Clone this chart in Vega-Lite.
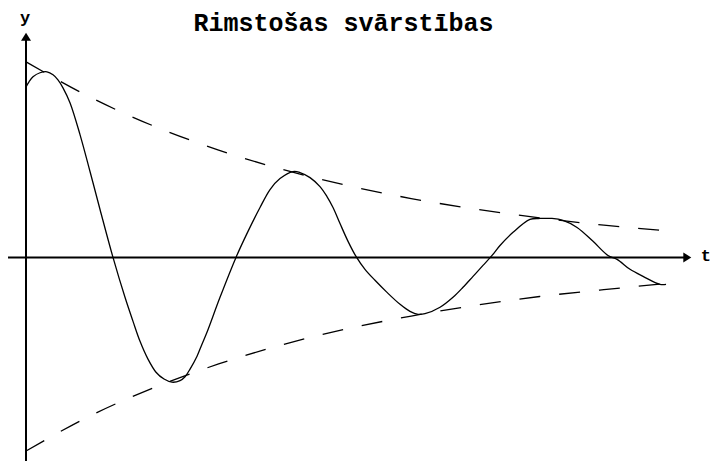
{
  "$schema": "https://vega.github.io/schema/vega-lite/v6.json",
  "width": 712,
  "height": 462,
  "autosize": {"type": "fit", "contains": "padding"},
  "padding": 0,
  "background": "white",
  "config": {"view": {"stroke": null}},
  "datasets": {
    "curve": [
      {"t": 0.0, "y": 0.872}, {"t": 0.047, "y": 0.898}, {"t": 0.109, "y": 0.923}, {"t": 0.218, "y": 0.944},
      {"t": 0.327, "y": 0.949}, {"t": 0.421, "y": 0.934}, {"t": 0.498, "y": 0.908}, {"t": 0.576, "y": 0.867},
      {"t": 0.685, "y": 0.791}, {"t": 0.841, "y": 0.628}, {"t": 0.997, "y": 0.439}, {"t": 1.153, "y": 0.245},
      {"t": 1.355, "y": 0.0}, {"t": 1.542, "y": -0.204}, {"t": 1.667, "y": -0.327}, {"t": 1.776, "y": -0.429},
      {"t": 1.900, "y": -0.520}, {"t": 2.025, "y": -0.587}, {"t": 2.150, "y": -0.622}, {"t": 2.274, "y": -0.638},
      {"t": 2.399, "y": -0.630}, {"t": 2.477, "y": -0.610}, {"t": 2.555, "y": -0.571}, {"t": 2.664, "y": -0.505},
      {"t": 2.741, "y": -0.444}, {"t": 2.819, "y": -0.383}, {"t": 3.022, "y": -0.204}, {"t": 3.271, "y": 0.0},
      {"t": 3.458, "y": 0.133}, {"t": 3.645, "y": 0.255}, {"t": 3.801, "y": 0.347}, {"t": 3.956, "y": 0.403},
      {"t": 4.159, "y": 0.439}, {"t": 4.268, "y": 0.434}, {"t": 4.424, "y": 0.408}, {"t": 4.579, "y": 0.362},
      {"t": 4.688, "y": 0.311}, {"t": 4.782, "y": 0.255}, {"t": 4.891, "y": 0.173}, {"t": 5.016, "y": 0.082},
      {"t": 5.140, "y": 0.005}, {"t": 5.280, "y": -0.061}, {"t": 5.436, "y": -0.117}, {"t": 5.623, "y": -0.179},
      {"t": 5.826, "y": -0.240}, {"t": 5.981, "y": -0.276}, {"t": 6.106, "y": -0.291}, {"t": 6.215, "y": -0.288},
      {"t": 6.449, "y": -0.255}, {"t": 6.651, "y": -0.204}, {"t": 6.807, "y": -0.153}, {"t": 6.963, "y": -0.097},
      {"t": 7.118, "y": -0.041}, {"t": 7.259, "y": 0.010}, {"t": 7.383, "y": 0.061}, {"t": 7.586, "y": 0.128},
      {"t": 7.850, "y": 0.194}, {"t": 8.006, "y": 0.199}, {"t": 8.193, "y": 0.199}, {"t": 8.364, "y": 0.189},
      {"t": 8.583, "y": 0.153}, {"t": 8.832, "y": 0.082}, {"t": 9.065, "y": 0.010}, {"t": 9.206, "y": -0.010},
      {"t": 9.408, "y": -0.061}, {"t": 9.611, "y": -0.097}, {"t": 9.875, "y": -0.138}, {"t": 9.969, "y": -0.138}
    ],
    "upper": [
      {"t": 0, "y": 1.0}, {"t": 1, "y": 0.819}, {"t": 2, "y": 0.67}, {"t": 3, "y": 0.549},
      {"t": 4, "y": 0.449}, {"t": 5, "y": 0.368}, {"t": 6, "y": 0.301}, {"t": 7, "y": 0.247},
      {"t": 8, "y": 0.202}, {"t": 9, "y": 0.165}, {"t": 10, "y": 0.135}
    ],
    "lower": [
      {"t": 0, "y": -0.99}, {"t": 1, "y": -0.81}, {"t": 2, "y": -0.665}, {"t": 3, "y": -0.545},
      {"t": 4, "y": -0.446}, {"t": 5, "y": -0.365}, {"t": 6, "y": -0.3}, {"t": 7, "y": -0.245},
      {"t": 8, "y": -0.2}, {"t": 9, "y": -0.165}, {"t": 10, "y": -0.133}
    ],
    "labels": [
      {"label": "Rimstošas svārstības", "t": 4.946, "y": 1.158, "size": "title"},
      {"label": "y", "t": -0.016, "y": 1.199, "size": "axis"},
      {"label": "t", "t": 10.59, "y": -0.02, "size": "axis"}
    ]
  },
  "layer": [
    {
      "data": {"name": "upper"},
      "mark": {"type": "line", "interpolate": "monotone", "color": "black", "strokeWidth": 1.3, "strokeDash": [21, 19]},
      "encoding": {
        "x": {"field": "t", "type": "quantitative", "axis": null, "scale": {"domain": [-0.405, 10.685], "nice": false, "zero": false}},
        "y": {"field": "y", "type": "quantitative", "axis": null, "scale": {"domain": [-1.041, 1.316], "nice": false, "zero": false}}
      }
    },
    {
      "data": {"name": "lower"},
      "mark": {"type": "line", "interpolate": "monotone", "color": "black", "strokeWidth": 1.3, "strokeDash": [21, 19]},
      "encoding": {
        "x": {"field": "t", "type": "quantitative", "axis": null, "scale": {"domain": [-0.405, 10.685], "nice": false, "zero": false}},
        "y": {"field": "y", "type": "quantitative", "axis": null, "scale": {"domain": [-1.041, 1.316], "nice": false, "zero": false}}
      }
    },
    {
      "data": {"name": "curve"},
      "mark": {"type": "line", "interpolate": "catmull-rom", "color": "black", "strokeWidth": 1.3},
      "encoding": {
        "x": {"field": "t", "type": "quantitative", "axis": null, "scale": {"domain": [-0.405, 10.685], "nice": false, "zero": false}},
        "y": {"field": "y", "type": "quantitative", "axis": null, "scale": {"domain": [-1.041, 1.316], "nice": false, "zero": false}}
      }
    },
    {
      "data": {"values": [{}]},
      "mark": {"type": "rule", "color": "black", "strokeWidth": 2},
      "encoding": {
        "x": {"datum": -0.28, "type": "quantitative", "axis": null, "scale": {"domain": [-0.405, 10.685], "nice": false, "zero": false}},
        "x2": {"datum": 10.25},
        "y": {"datum": 0, "type": "quantitative", "axis": null, "scale": {"domain": [-1.041, 1.316], "nice": false, "zero": false}}
      }
    },
    {
      "data": {"values": [{}]},
      "mark": {"type": "rule", "color": "black", "strokeWidth": 2},
      "encoding": {
        "x": {"datum": 0, "type": "quantitative", "axis": null, "scale": {"domain": [-0.405, 10.685], "nice": false, "zero": false}},
        "y": {"datum": -1.041, "type": "quantitative", "axis": null, "scale": {"domain": [-1.041, 1.316], "nice": false, "zero": false}},
        "y2": {"datum": 1.112}
      }
    },
    {
      "data": {"values": [{}]},
      "mark": {"type": "point", "shape": "M0,-0.8L1,0.8L-1,0.8Z", "size": 100, "filled": true, "color": "black", "opacity": 1},
      "encoding": {
        "x": {"datum": 0, "type": "quantitative", "axis": null, "scale": {"domain": [-0.405, 10.685], "nice": false, "zero": false}},
        "y": {"datum": 1.128, "type": "quantitative", "axis": null, "scale": {"domain": [-1.041, 1.316], "nice": false, "zero": false}}
      }
    },
    {
      "data": {"values": [{}]},
      "mark": {"type": "point", "shape": "M0.8,0L-0.8,1L-0.8,-1Z", "size": 100, "filled": true, "color": "black", "opacity": 1},
      "encoding": {
        "x": {"datum": 10.3, "type": "quantitative", "axis": null, "scale": {"domain": [-0.405, 10.685], "nice": false, "zero": false}},
        "y": {"datum": 0, "type": "quantitative", "axis": null, "scale": {"domain": [-1.041, 1.316], "nice": false, "zero": false}}
      }
    },
    {
      "data": {"name": "labels"},
      "mark": {"type": "text", "font": "Liberation Mono", "fontWeight": "bold", "color": "black", "align": "center", "baseline": "alphabetic"},
      "encoding": {
        "x": {"field": "t", "type": "quantitative", "axis": null, "scale": {"domain": [-0.405, 10.685], "nice": false, "zero": false}},
        "y": {"field": "y", "type": "quantitative", "axis": null, "scale": {"domain": [-1.041, 1.316], "nice": false, "zero": false}},
        "text": {"field": "label"},
        "size": {"field": "size", "type": "nominal", "legend": null, "scale": {"domain": ["title", "axis"], "range": [25, 17]}}
      }
    }
  ]
}
